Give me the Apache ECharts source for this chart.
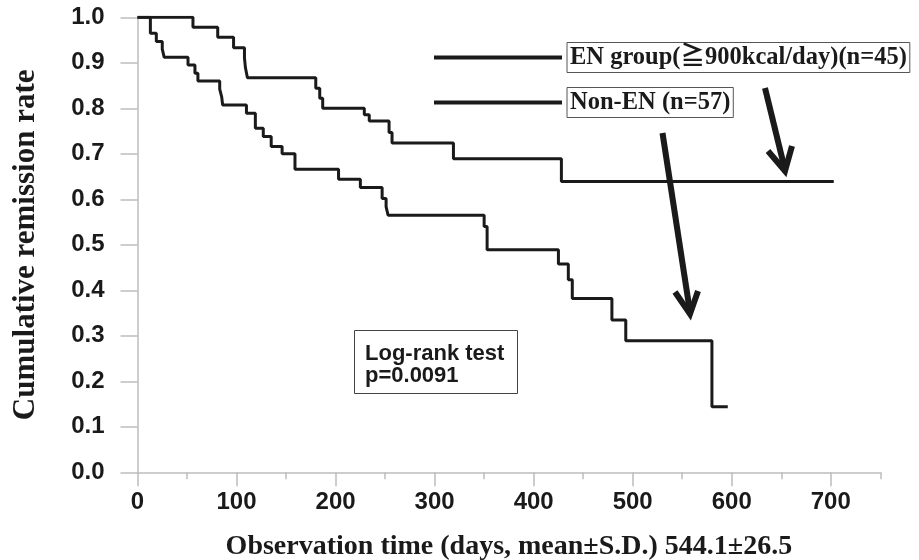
<!DOCTYPE html>
<html><head><meta charset="utf-8">
<script src="https://cdn.jsdelivr.net/npm/echarts@6/dist/echarts.min.js"></script>
<style>html,body{margin:0;padding:0;background:#fff}#c{width:919px;height:560px}</style>
</head><body><div id="c"></div>
<script>
// EN group (n=45): event days and cumulative remission rate (Kaplan-Meier steps)
const enDays = [0, 56, 81, 97, 108, 109, 111, 180, 184, 187, 229, 234, 254, 257, 319, 428, 703];
const enRate = [1.0, 0.978, 0.956, 0.933, 0.911, 0.889, 0.867, 0.844, 0.822, 0.800, 0.786, 0.772, 0.747, 0.724, 0.689, 0.639, 0.639];
// Non-EN group (n=57)
const nonDays = [0, 13, 19, 25, 27, 51, 58, 61, 83, 85, 86, 110, 119, 127, 135, 146, 159, 203, 225, 247, 251, 253, 350, 353, 425, 435, 439, 479, 493, 580, 596];
const nonRate = [1.0, 0.965, 0.947, 0.930, 0.912, 0.895, 0.877, 0.860, 0.842, 0.825, 0.807, 0.789, 0.756, 0.738, 0.716, 0.700, 0.666, 0.644, 0.626, 0.602, 0.584, 0.565, 0.540, 0.489, 0.458, 0.423, 0.382, 0.335, 0.289, 0.144, 0.144];

const seriesNames = ['EN group(\u2267900kcal/day)(n=45)', 'Non-EN (n=57)'];
const xTickLabels = [0, 100, 200, 300, 400, 500, 600, 700];
const xMinorTicks = [50, 150, 250, 350, 450, 550, 650, 750];
const xTitle = 'Observation time (days, mean\u00B1S.D.) 544.1\u00B126.5';
const yTitle = 'Cumulative remission rate';
const testText = ['Log-rank test', 'p=0.0091'];

const zip = (a, b) => a.map((v, i) => [v, b[i]]);
const axisGrey = '#bdbdbd';
const ink = '#1a1a1a';
const sansBold = { fontFamily: "'Liberation Sans', Arial, sans-serif", fontWeight: 'bold', color: ink };
const serifBold = { fontFamily: "'Liberation Serif', 'Noto Sans CJK JP', serif", fontWeight: 'bold', color: ink };

const chart = echarts.init(document.getElementById('c'), null, { renderer: 'canvas' });
chart.setOption({
  animation: false,
  backgroundColor: '#fff',
  grid: { left: 137.5, right: 38.7, top: 17.3, bottom: 87.7, containLabel: false, outerBoundsMode: 'none' },
  title: {
    text: testText.join('\n'),
    left: 354, top: 330,
    padding: [13, 13, 7, 11],
    borderColor: '#444', borderWidth: 1,
    textStyle: Object.assign({ fontSize: 22, lineHeight: 22 }, sansBold)
  },
  legend: {
    left: 434, top: 42, orient: 'vertical', padding: 0,
    itemWidth: 128, itemHeight: 4, itemGap: 14, icon: 'rect',
    selectedMode: false,
    data: seriesNames,
    textStyle: Object.assign({ fontSize: 24.5, lineHeight: 26, borderColor: '#555', borderWidth: 1, padding: [3, 3, 1, 3] }, serifBold)
  },
  xAxis: [{
    type: 'value', min: 0, max: 750, position: 'bottom',
    axisLine: { show: true, onZero: true, lineStyle: { color: axisGrey, width: 1.5 } },
    axisTick: { show: true, customValues: xTickLabels, length: 14, lineStyle: { color: axisGrey, width: 1.5 } },
    axisLabel: Object.assign({ customValues: xTickLabels, margin: 18, fontSize: 24 }, sansBold),
    splitLine: { show: false },
    name: xTitle, nameLocation: 'middle', nameGap: 60,
    nameTextStyle: Object.assign({ fontSize: 28 }, serifBold)
  }, {
    type: 'value', min: 0, max: 750, position: 'bottom',
    axisLine: { show: false },
    axisTick: { show: true, customValues: xMinorTicks, length: 7, lineStyle: { color: axisGrey, width: 1.5 } },
    axisLabel: { show: false },
    splitLine: { show: false }
  }],
  yAxis: {
    type: 'value', min: 0, max: 1, interval: 0.1, position: 'left',
    axisLine: { show: true, lineStyle: { color: axisGrey, width: 1.5 } },
    axisTick: { show: true, length: 17, lineStyle: { color: axisGrey, width: 1.5 } },
    axisLabel: Object.assign({ margin: 33, fontSize: 24, formatter: v => v.toFixed(1) }, sansBold),
    splitLine: { show: false },
    name: yTitle, nameLocation: 'middle', nameGap: 96,
    nameTextStyle: Object.assign({ fontSize: 31 }, serifBold)
  },
  series: [{
    name: seriesNames[0], type: 'line', step: 'end', showSymbol: false, symbol: 'none',
    xAxisIndex: 0, data: zip(enDays, enRate),
    lineStyle: { color: ink, width: 3 }, itemStyle: { color: ink }
  }, {
    name: seriesNames[1], type: 'line', step: 'end', showSymbol: false, symbol: 'none',
    xAxisIndex: 0, data: zip(nonDays, nonRate),
    lineStyle: { color: ink, width: 3 }, itemStyle: { color: ink }
  }],
  graphic: [
    { type: 'polyline', shape: { points: [[765, 88], [785, 170]] }, style: { stroke: ink, lineWidth: 6, fill: null } },
    { type: 'polyline', shape: { points: [[768, 151], [785, 171], [792, 146]] }, style: { stroke: ink, lineWidth: 6, fill: null, lineJoin: 'miter' } },
    { type: 'polyline', shape: { points: [[662.5, 133], [690, 312]] }, style: { stroke: ink, lineWidth: 6, fill: null } },
    { type: 'polyline', shape: { points: [[675, 292], [690, 314], [698, 291]] }, style: { stroke: ink, lineWidth: 6, fill: null, lineJoin: 'miter' } }
  ]
});
</script></body></html>
